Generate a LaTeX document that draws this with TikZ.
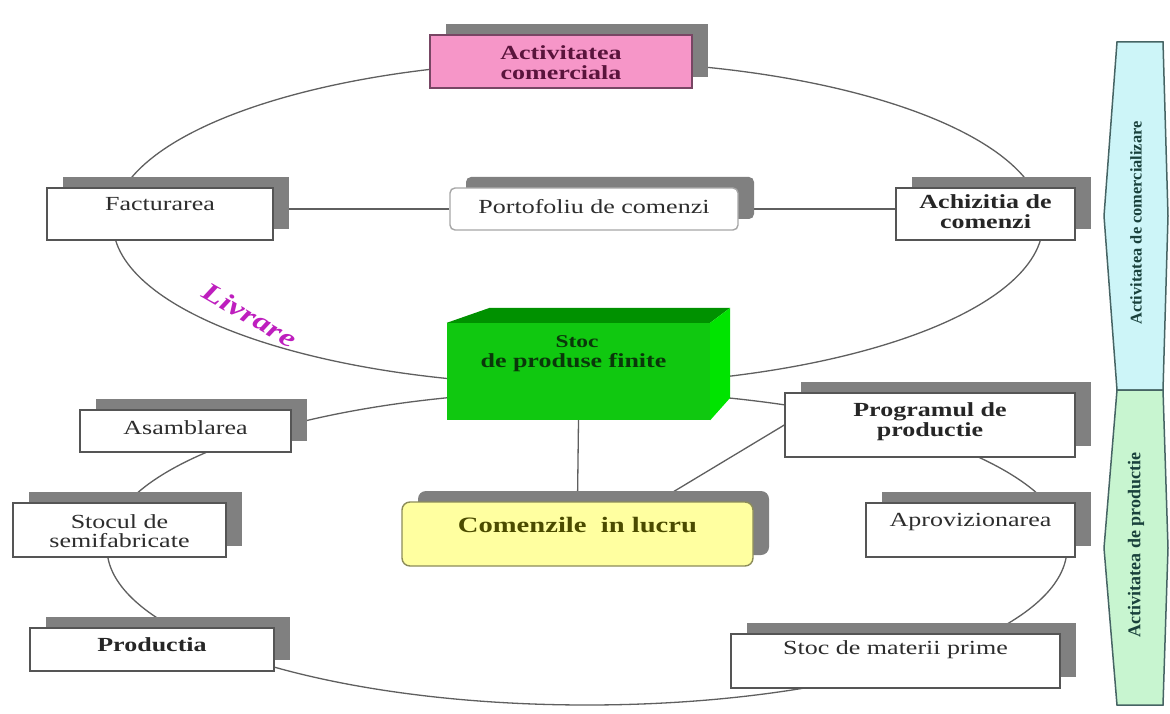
\documentclass[tikz,border=0pt]{standalone}
\usepackage{fontspec}
\setmainfont{Liberation Serif}[FakeStretch=1.3]
\newfontfamily\barfont{Liberation Serif}
\usetikzlibrary{shadows,backgrounds,calc}
\definecolor{boxline}{RGB}{85,85,85}
\definecolor{shadowgray}{RGB}{128,128,128}
\definecolor{ringline}{RGB}{95,95,95}
\definecolor{pinkfill}{RGB}{246,150,200}
\definecolor{pinkline}{RGB}{120,70,100}
\definecolor{pinktext}{RGB}{90,20,60}
\definecolor{yelfill}{RGB}{255,255,160}
\definecolor{yelline}{RGB}{140,140,90}
\definecolor{yeltext}{RGB}{75,75,0}
\definecolor{gfront}{RGB}{16,200,16}
\definecolor{gtop}{RGB}{0,145,0}
\definecolor{gside}{RGB}{0,228,0}
\definecolor{gtext}{RGB}{10,55,10}
\definecolor{cyanbar}{RGB}{205,245,248}
\definecolor{greenbar}{RGB}{200,245,208}
\definecolor{barline}{RGB}{70,100,100}
\definecolor{bartext}{RGB}{25,65,60}
\definecolor{livcol}{RGB}{190,30,190}
\definecolor{plaintext}{RGB}{45,45,45}
\tikzset{
  box/.style={draw=boxline, line width=1.4pt, fill=white, inner sep=0pt,
    drop shadow={shadow xshift=16pt, shadow yshift=11pt, fill=shadowgray, opacity=1}},
  lbl/.style={inner sep=0pt, align=center, text=plaintext, font=\fontsize{20}{20}\selectfont},
  blbl/.style={inner sep=0pt, align=center, text=black!85, font=\bfseries\fontsize{20}{20}\selectfont},
  ring/.style={draw=ringline, line width=1.3pt},
  link/.style={draw=ringline, line width=1.3pt},
  bartxt/.style={rotate=90, inner sep=0pt, text=bartext},
}
\begin{document}
\begin{tikzpicture}[x=1pt,y=-1pt]
\path[use as bounding box] (0,0) rectangle (1170,714);

% boxes
\node[box, fill=pinkfill, draw=pinkline, minimum width=262pt, minimum height=53pt] (act) at (561,61.5) {};
\node[blbl, text=pinktext] (actT) at (561,63) {Activitatea\\comerciala};

\node[box, minimum width=226pt, minimum height=52pt] (fact) at (160,214) {};
\node[lbl] (factT) at (160,204) {Facturarea};

\node[box, draw=black!35, rounded corners=5pt, minimum width=288pt, minimum height=42pt] (port) at (594,209) {};
\node[lbl] (portT) at (594,207) {Portofoliu de comenzi};

\node[box, minimum width=179pt, minimum height=52pt] (achiz) at (985.5,214) {};
\node[blbl] (achizT) at (985.5,212) {Achizitia de\\comenzi};

\node[box, minimum width=211pt, minimum height=42pt] (asam) at (185.5,431) {};
\node[lbl] (asamT) at (185.5,428) {Asamblarea};

\node[box, minimum width=213pt, minimum height=54pt] (stocul) at (119.5,530) {};
\node[lbl, font=\fontsize{20}{19}\selectfont] (stoculT) at (119.5,531.5) {Stocul de\\semifabricate};

\node[box, minimum width=244pt, minimum height=43pt] (prod) at (152,649.5) {};
\node[blbl] (prodT) at (152,645) {Productia};

\node[box, fill=yelfill, draw=yelline, rounded corners=8pt, minimum width=351pt, minimum height=64pt] (comenz) at (577.5,534) {};
\node[blbl, text=yeltext, font=\bfseries\fontsize{22}{22}\selectfont] (comenzT) at (577.5,525) {Comenzile~ in lucru};

\node[box, minimum width=290pt, minimum height=64pt] (progr) at (930,425) {};
\node[blbl] (progrT) at (930,422) {Programul de\\productie};

\node[box, minimum width=209pt, minimum height=54pt] (aprov) at (970.5,530) {};
\node[lbl] (aprovT) at (970.5,522) {Aprovizionarea};

\node[box, minimum width=329pt, minimum height=54pt] (stocmp) at (895.5,661) {};
\node[lbl] (stocmpT) at (895.5,650) {Stoc de materii prime};

% green block
\node[fill=gfront, inner sep=0pt, minimum width=263pt, minimum height=97pt] (stoc) at (578.5,371.5) {};
\fill[gtop] (stoc.north west) -- ++(43,-15) -- ($(stoc.north east)+(20,-15)$) -- (stoc.north east) -- cycle;
\fill[gside] (stoc.north east) -- ++(20,-15) -- ++(0,90) -- (stoc.south east) -- cycle;
\node[inner sep=0pt, text=gtext, font=\bfseries\fontsize{18}{18}\selectfont] (stocT1) at (577,342) {Stoc};
\node[inner sep=0pt, text=gtext, font=\bfseries\fontsize{20}{20}\selectfont] (stocT2) at (573.5,363) {de produse finite};

% Livrare
\node[rotate=-30, inner sep=0pt, text=livcol, font=\bfseries\itshape\fontsize{26}{26}\selectfont] (livr) at (250,315) {Livrare};

% side bars
\filldraw[fill=cyanbar, draw=barline, line width=1.5pt] (1117,42) -- (1163,42) -- (1168,216) -- (1163,390) -- (1117,390) -- (1104,216) -- cycle;
\filldraw[fill=greenbar, draw=barline, line width=1.5pt] (1117,390) -- (1163,390) -- (1168,548) -- (1163,705) -- (1117,705) -- (1104,548) -- cycle;
\node[bartxt, font=\barfont\bfseries\fontsize{16.4}{16.4}\selectfont] (barT1) at (1136,223) {Activitatea de comercializare};
\node[bartxt, font=\barfont\bfseries\fontsize{18}{18}\selectfont] (barT2) at (1136,545) {Activitatea de productie};

% connectors behind
\begin{pgfonlayer}{background}
\fill[white] (0,0) rectangle (1170,714);
\draw[ring] (578,223) ellipse [x radius=465, y radius=162];
\draw[ring] (587,548) ellipse [x radius=480, y radius=157];
\draw[link] (port.west -| fact.east) -- (port.west);
\draw[link] (port.east) -- (port.east -| achiz.west);
\draw[link] (stoc.south) -- (comenz.north);
\draw[link] ($(comenz.north)+(80,0)$) -- (progr.west);
\end{pgfonlayer}
\end{tikzpicture}
\end{document}
